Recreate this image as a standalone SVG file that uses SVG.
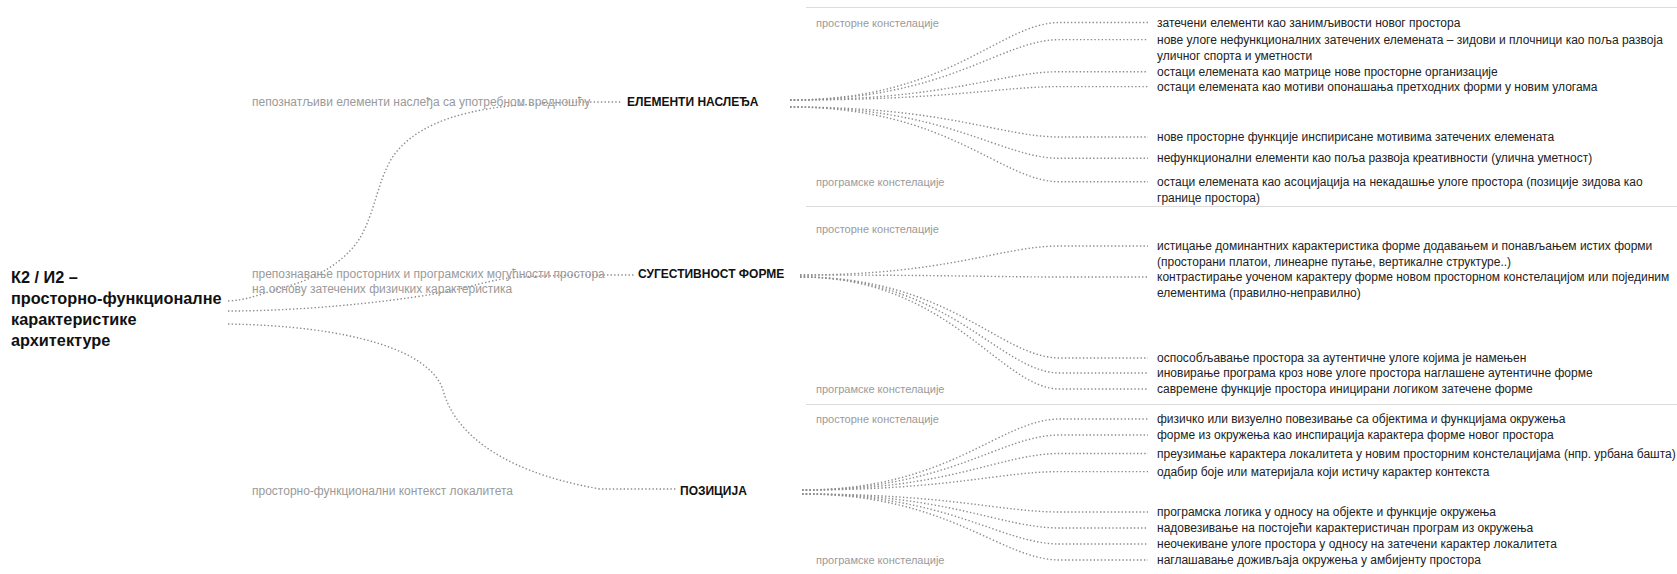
<svg xmlns="http://www.w3.org/2000/svg" width="1677" height="574" viewBox="0 0 1677 574">
<style>
.t{font-family:"Liberation Sans",Arial,sans-serif;}
.title{font-size:16.3px;font-weight:bold;fill:#111;}
.node{font-size:12px;font-weight:bold;fill:#111;}
.grey{font-size:12px;fill:#9a9a9a;}
.grey2{font-size:11px;fill:#9a9a9a;}
.item{font-size:12px;fill:#222;}
.dot{fill:none;stroke:#8c8c8c;stroke-width:1.4;stroke-dasharray:1.4 2.2;}
.sep{stroke:#dcdcdc;stroke-width:1;}
</style>
<rect width="1677" height="574" fill="#fff"/>
<g id="separators">
<line class="sep" x1="806" y1="7.5" x2="1677" y2="7.5"/>
<line class="sep" x1="806" y1="206.5" x2="1677" y2="206.5"/>
<line class="sep" x1="806" y1="404.5" x2="1677" y2="404.5"/>
</g>
<g id="connectors">
<path class="dot" d="M228,301 C250,300 265,292 285,287 C315,279 345,262 360,238 C375,212 378,180 392,158 C410,130 450,112 510,106 C545,103 570,102 590,102 H622"/>
<path class="dot" d="M228,311 C300,311 380,303 434,294 C470,288 490,279 520,277 C560,275 590,275 610,275 H634"/>
<path class="dot" d="M228,324 C350,326 430,350 443,390 C452,425 490,470 600,489 H676"/>
<path class="dot" d="M790,100 C950,100 1000,22.5 1060,22.5 H1148"/>
<path class="dot" d="M790,100 C950,100 1000,39.6 1060,39.6 H1148"/>
<path class="dot" d="M790,100 C950,100 1000,71.7 1060,71.7 H1148"/>
<path class="dot" d="M790,100 C950,100 1000,86.6 1060,86.6 H1148"/>
<path class="dot" d="M790,107 C950,107 1000,137 1060,137 H1148"/>
<path class="dot" d="M790,107 C950,107 1000,158.3 1060,158.3 H1148"/>
<path class="dot" d="M790,107 C950,107 1000,181.8 1060,181.8 H1148"/>
<path class="dot" d="M800,275 C950,275 1000,246 1060,246 H1148"/>
<path class="dot" d="M800,275 C950,275 1000,277 1060,277 H1148"/>
<path class="dot" d="M800,277 C950,277 1000,358 1060,358 H1148"/>
<path class="dot" d="M800,277 C950,277 1000,373 1060,373 H1148"/>
<path class="dot" d="M800,277 C950,277 1000,389 1060,389 H1148"/>
<path class="dot" d="M802,490 C950,490 1000,419 1060,419 H1148"/>
<path class="dot" d="M802,490 C950,490 1000,435 1060,435 H1148"/>
<path class="dot" d="M802,490 C950,490 1000,453.5 1060,453.5 H1148"/>
<path class="dot" d="M802,490 C950,490 1000,471.6 1060,471.6 H1148"/>
<path class="dot" d="M802,494 C950,494 1000,512 1060,512 H1148"/>
<path class="dot" d="M802,494 C950,494 1000,528 1060,528 H1148"/>
<path class="dot" d="M802,494 C950,494 1000,544 1060,544 H1148"/>
<path class="dot" d="M802,494 C950,494 1000,560 1060,560 H1148"/>
</g>
<g id="title">
<text class="t title" x="11" y="283">К2 / И2 –</text>
<text class="t title" x="11" y="304">просторно-функционалне</text>
<text class="t title" x="11" y="325">карактеристике</text>
<text class="t title" x="11" y="346">архитектуре</text>
</g>
<g id="label-elementi">
<text class="t grey" x="252" y="105.5">пепознатљиви елементи наслеђа са употребном вредношћу</text>
</g>
<g id="node-elementi">
<text class="t node" x="627" y="106">ЕЛЕМЕНТИ НАСЛЕЂА</text>
</g>
<g id="label-sugestivnost">
<text class="t grey" x="252" y="278">препознавање просторних и програмских могућности простора</text>
<text class="t grey" x="252" y="293">на основу затечених физичких карактеристика</text>
</g>
<g id="node-sugestivnost">
<text class="t node" x="638" y="278">СУГЕСТИВНОСТ ФОРМЕ</text>
</g>
<g id="label-pozicija">
<text class="t grey" x="252" y="495">просторно-функционални контекст локалитета</text>
</g>
<g id="node-pozicija">
<text class="t node" x="680" y="495">ПОЗИЦИЈА</text>
</g>
<g id="group-elementi">
<text class="t grey2" x="816" y="26.5">просторне констелације</text>
<text class="t grey2" x="816" y="185.8">програмске констелације</text>
<text class="t item" x="1157" y="26.5">затечени елементи као занимљивости новог простора</text>
<text class="t item" x="1157" y="43.6">нове улоге нефункционалних затечених елемената – зидови и плочници као поља развоја</text>
<text class="t item" x="1157" y="59.6">уличног спорта и уметности</text>
<text class="t item" x="1157" y="75.7">остаци елемената као матрице нове просторне организације</text>
<text class="t item" x="1157" y="90.6">остаци елемената као мотиви опонашања претходних форми у новим улогама</text>
<text class="t item" x="1157" y="141">нове просторне функције инспирисане мотивима затечених елемената</text>
<text class="t item" x="1157" y="162.3">нефункционални елементи као поља развоја креативности (улична уметност)</text>
<text class="t item" x="1157" y="185.8">остаци елемената као асоцијација на некадашње улоге простора (позиције зидова као</text>
<text class="t item" x="1157" y="201.9">границе простора)</text>
</g>
<g id="group-sugestivnost">
<text class="t grey2" x="816" y="233">просторне констелације</text>
<text class="t grey2" x="816" y="393">програмске констелације</text>
<text class="t item" x="1157" y="250">истицање доминантних карактеристика форме додавањем и понављањем истих форми</text>
<text class="t item" x="1157" y="266">(просторани платои, линеарне путање, вертикалне структуре..)</text>
<text class="t item" x="1157" y="281">контрастирање уоченом карактеру форме новом просторном констелацијом или појединим</text>
<text class="t item" x="1157" y="297">елементима (правилно-неправилно)</text>
<text class="t item" x="1157" y="362">оспособљавање простора за аутентичне улоге којима је намењен</text>
<text class="t item" x="1157" y="377">иновирање програма кроз нове улоге простора наглашене аутентичне форме</text>
<text class="t item" x="1157" y="393">савремене функције простора иницирани логиком затечене форме</text>
</g>
<g id="group-pozicija">
<text class="t grey2" x="816" y="423">просторне констелације</text>
<text class="t grey2" x="816" y="564">програмске констелације</text>
<text class="t item" x="1157" y="423">физичко или визуелно повезивање са објектима и функцијама окружења</text>
<text class="t item" x="1157" y="439">форме из окружења као инспирација карактера форме новог простора</text>
<text class="t item" x="1157" y="457.5">преузимање карактера локалитета у новим просторним констелацијама (нпр. урбана башта)</text>
<text class="t item" x="1157" y="475.6">одабир боје или материјала који истичу карактер контекста</text>
<text class="t item" x="1157" y="516">програмска логика у односу на објекте и функције окружења</text>
<text class="t item" x="1157" y="532">надовезивање на постојећи карактеристичан програм из окружења</text>
<text class="t item" x="1157" y="548">неочекиване улоге простора у односу на затечени карактер локалитета</text>
<text class="t item" x="1157" y="564">наглашавање доживљаја окружења у амбијенту простора</text>
</g>
</svg>
